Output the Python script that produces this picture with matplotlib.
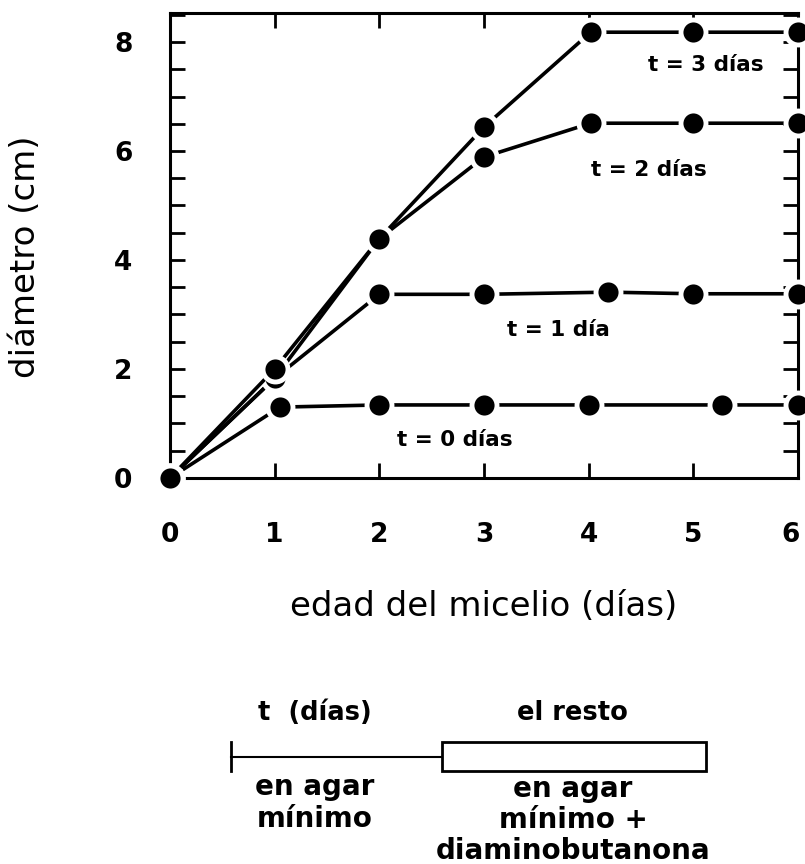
import matplotlib
matplotlib.use('Agg')
import matplotlib.pyplot as plt
import matplotlib.transforms as mtransforms
from matplotlib.ticker import MultipleLocator
from matplotlib.lines import Line2D
from matplotlib.patches import Rectangle

# edad del micelio (días) and diámetro (cm) for each t
x_t0 = [0, 1.05, 2.0, 3.0, 4.0, 5.27, 6.0]
y_t0 = [0, 1.30, 1.34, 1.34, 1.34, 1.34, 1.34]
x_t1 = [0, 1.0, 2.0, 3.0, 4.19, 5.0, 6.0]
y_t1 = [0, 1.83, 3.37, 3.37, 3.41, 3.38, 3.38]
x_t2 = [0, 1.0, 2.0, 3.0, 4.02, 5.0, 6.0]
y_t2 = [0, 1.83, 4.39, 5.89, 6.51, 6.51, 6.51]
x_t3 = [0, 1.0, 2.0, 3.0, 4.02, 5.0, 6.0]
y_t3 = [0, 2.0, 4.39, 6.44, 8.18, 8.18, 8.18]

labels = ['t = 0 días', 't = 1 día', 't = 2 días', 't = 3 días']
label_pos = [(2.72, 0.70), (3.71, 2.72), (4.58, 5.65), (5.12, 7.58)]

FONT = 'DejaVu Sans'

fig = plt.figure(figsize=(8.05, 8.64), dpi=100)
ax = fig.add_axes([0.2112, 0.4468, 0.780, 0.538])

for xs, ys in [(x_t0, y_t0), (x_t1, y_t1), (x_t2, y_t2), (x_t3, y_t3)]:
    ax.plot(xs, ys, color='black', lw=2.6, marker='o', ms=18,
            mfc='black', mec='white', mew=3.5, clip_on=False, zorder=3)

for lab, (lx, ly) in zip(labels, label_pos):
    ax.text(lx, ly, lab, ha='center', va='center', fontsize=15.5,
            fontfamily=FONT, fontweight='bold')

ax.set_xlim(0, 6)
ax.set_ylim(0, 8.53)
ax.xaxis.set_major_locator(MultipleLocator(1))
ax.yaxis.set_major_locator(MultipleLocator(2))
ax.yaxis.set_minor_locator(MultipleLocator(0.5))
ax.tick_params(which='both', direction='in', top=True, right=True,
               length=11, width=2)
ax.tick_params(axis='x', pad=32)
ax.tick_params(axis='y', pad=27)
for sp in ax.spines.values():
    sp.set_linewidth(2.2)

ax.set_xlabel('edad del micelio (días)', fontfamily=FONT, fontsize=24.5,
              labelpad=30)
ax.set_ylabel('diámetro (cm)', fontfamily=FONT, fontsize=24.5,
              labelpad=52)
ax.yaxis.label.set_y(0.475)

# esquema del tratamiento
W, H = 805, 864
def fx(px):
    return px / W
def fy(py):
    return 1 - py / H

fig.text(fx(315), fy(713), 't  (días)', ha='center', va='center',
         fontsize=18.5, fontfamily=FONT, fontweight='bold')
fig.text(fx(572), fy(713), 'el resto', ha='center', va='center',
         fontsize=18.5, fontfamily=FONT, fontweight='bold')
fig.add_artist(Line2D([fx(231), fx(231)], [fy(742), fy(771)],
                      color='black', lw=2))
fig.add_artist(Line2D([fx(231), fx(442)], [fy(757), fy(757)],
                      color='black', lw=1.5))
fig.add_artist(Rectangle((fx(442), fy(771)), fx(706) - fx(442),
                         fy(742) - fy(771), fill=False, ec='black', lw=2))
fig.text(fx(315), fy(803), 'en agar\nmínimo', ha='center', va='center',
         fontsize=20, fontfamily=FONT, fontweight='bold', linespacing=1.15)
fig.text(fx(573), fy(820), 'en agar\nmínimo +\ndiaminobutanona', ha='center',
         va='center', fontsize=20, fontfamily=FONT, fontweight='bold',
         linespacing=1.15)

# ticks exist only after a draw; style them then
fig.canvas.draw()
for lab in ax.get_xticklabels() + ax.get_yticklabels():
    lab.set_fontfamily(FONT)
    lab.set_fontweight('bold')
    lab.set_fontsize(19)
# the last x label sits on the figure edge, nudge it in a little
last = [t for t in ax.xaxis.get_major_ticks() if abs(t.get_loc() - 6) < 1e-9][0]
last.label1.set_transform(last.label1.get_transform() +
                          mtransforms.ScaledTranslation(-5 / 72, 0,
                                                        fig.dpi_scale_trans))

fig.savefig('out.png', dpi=100)
